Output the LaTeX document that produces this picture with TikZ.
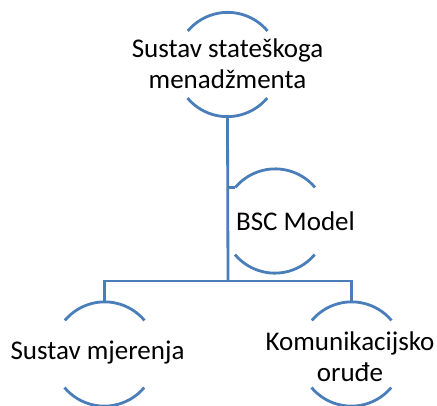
\documentclass[tikz,border=0pt]{standalone}
\usepackage{fontspec}
\setmainfont{Carlito}
\definecolor{arcblue}{RGB}{74,126,187}
\begin{document}
\begin{tikzpicture}[x=1pt,y=1pt,
  ring/.style={circle,draw=none,minimum size=104pt,inner sep=0pt},
  arcline/.style={draw=arcblue,line width=2.8pt},
  link/.style={draw=arcblue,line width=2.8pt},
  lbl/.style={font=\fontsize{27}{31}\selectfont,align=center,inner sep=0pt,text=black}]
\useasboundingbox (0,0) rectangle (437,-405);
\node[ring] (c1) at (227.5,-64.5) {};
\node[ring] (c2) at (275,-221) {};
\node[ring] (c3) at (104.5,-354) {};
\node[ring] (c4) at (351.5,-354) {};
\coordinate (bus) at (228,-281);
\foreach \c in {c1,c2,c3,c4}{
  \draw[arcline] (\c.40) arc[start angle=40,end angle=140,radius=52pt];
  \draw[arcline] (\c.220) arc[start angle=220,end angle=320,radius=52pt];
}
\node[lbl] (t1) at (227.5,-64) {Sustav stateškoga\\menadžmenta};
\node[lbl] (t2) at (295.5,-221) {BSC Model};
\node[lbl] (t3) at (97.5,-353) {Sustav mjerenja};
\node[lbl] (t4) at (350,-357) {Komunikacijsko\\oruđe};
\draw[link] (c1.south) -- (bus);
\draw[link] (c2.140) -- (c2.140 -| bus);
\draw[link] (c3.north) |- (c4.north |- bus) -- (c4.north);
\end{tikzpicture}
\end{document}
